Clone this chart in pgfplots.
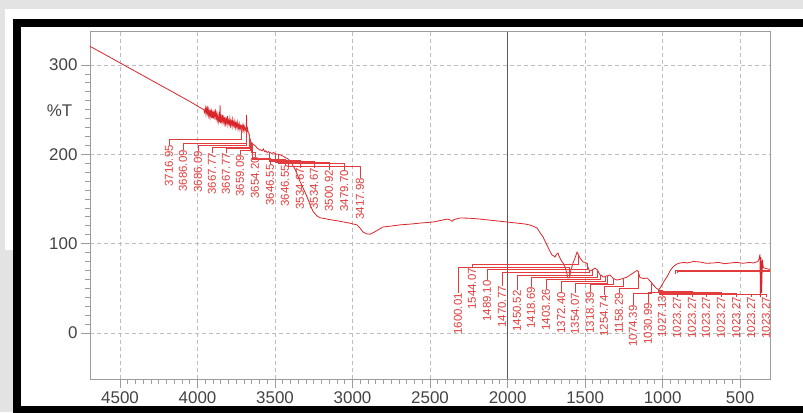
\documentclass[border=0pt]{standalone}
\usepackage{fontspec}
\setmainfont{Liberation Sans}
\usepackage{pgfplots}
\usepackage{pgfplotstable}
\pgfplotsset{compat=1.18}

\definecolor{pagegray}{HTML}{E3E3E3}
\definecolor{ticktext}{HTML}{444444}
\definecolor{boxgray}{HTML}{9C9C9C}
\definecolor{gridgray}{HTML}{BDBDBD}
\definecolor{specred}{HTML}{D9262A}
\definecolor{peakred}{HTML}{E23C3C}
\definecolor{markerline}{HTML}{5A5A5A}

\tikzset{
  leader/.style={peakred, line width=0.55bp},
  peaklabel/.style={rotate=90, anchor=east, inner sep=0pt, text=peakred,
    font=\fontsize{11.5}{12}\selectfont},
}

% IR spectrum: wavenumber (cm^-1) vs %T
\pgfplotstableread{
wn T
4694 321
4650 316.8
4600 312
4550 307.2
4500 302.4
4450 297.6
4400 292.8
4350 288
4300 283.2
4250 278.4
4200 273.6
4150 268.8
4100 264
4050 259.2
4000 254
3980 252
3970 251
3960 250
3955 247
3950 252
3946 245
3942 251
3938 246
3934 254
3930 244
3926 249
3922 243
3918 250
3914 242
3910 248
3906 241
3902 249
3898 240
3894 246
3890 242
3886 251
3882 239
3878 245
3874 238
3870 244
3866 237
3862 243
3858 236
3855 255
3852 235
3848 242
3844 237
3840 244
3836 236
3832 241
3828 235
3824 242
3820 234
3816 239
3812 235
3808 243
3804 233
3800 238
3796 234
3792 240
3788 232
3784 237
3780 233
3776 239
3772 231
3768 236
3764 232
3760 237
3756 230
3752 235
3748 231
3744 236
3740 229
3736 233
3732 228
3728 234
3724 229
3720 232
3716.95 231
3712 233
3708 227
3704 232
3700 226
3696 231
3690 227
3686.09 229
3684 244
3682 225
3678 229
3672 224
3667.77 223
3664 219
3659.09 216
3654.20 213
3650 213
3646.55 212
3640 211
3632 210
3624 209
3616 207
3608 206
3600 205
3592 205
3584 204
3576 206
3568 203
3560 204
3552 202
3544 203
3534.67 202
3520 201
3510 202
3500.92 201
3490 200
3479.70 200
3460 199
3449 198
3430 196
3417.98 195
3400 192
3370 183
3340 170
3300 155
3270 142
3255 136
3230 131
3210 129
3150 127
3081 125
3020 123
2971 121
2950 117
2933 113
2910 111
2888 110.5
2870 112
2849 114
2820 117
2804 118.6
2760 119.5
2694 121
2620 122
2565 123
2481 124.2
2430 126
2391 127.5
2370 126.5
2358 125
2345 127
2307 128.7
2250 128.5
2178 127.5
2100 126
2004 124.2
1940 123
1888 122
1855 120.8
1830 119
1810 117.5
1790 112
1771 107.4
1746 98.4
1725 91
1713 87.2
1700 86
1694 85
1685 88
1675 89.5
1668 86
1662 83.9
1650 80
1642 78.3
1630 74
1620 68
1610 61.5
1600.01 62
1592 70
1578 78.3
1565 84
1552 90.6
1544.07 88
1533 83.9
1520 81
1513 79.4
1500 79
1489.10 78
1478 72
1470.77 69
1460 70
1450.52 71
1436 72.7
1425 71
1418.69 70
1410 67
1403.26 65
1390 64
1384 62.6
1372.40 63
1360 64
1354.07 64
1339 64.8
1318.39 61
1294 59.2
1275 60
1254.74 61
1229 62.6
1200 66
1191 67
1165 70
1158.29 69
1146 62
1120 61
1100 61.5
1074.39 57
1062 54
1040 50
1030.99 49
1027.13 48.8
1023.27 48.6
1010 52
990 58
971 63
950 70
933 74
910 77
888 78.3
860 79
842 78.3
800 80
758 79.4
720 78
675 78.3
640 79
600 77.5
565 78.3
520 79
480 78
440 79
416 78.3
385 80
376 84
372 88
369 40
365 85
361 45
356 82
350 73
330 72
307 71
}\spectrum

% the wavenumber axis runs from high to low: positions are plotted at -wn
% peak marker: text, label position, label top, leader level, peak position, peak %T
\newcommand{\peak}[6]{%
  \draw[leader] (axis cs:-#2,#3) -- (axis cs:-#2,#4) -- (axis cs:-#5,#4) -- (axis cs:-#5,#6);
  \node[peaklabel] at (axis cs:-#2,#3) {#1};}

\begin{document}
\begin{tikzpicture}[x=1bp,y=1bp]
% page, outer margin and black frame bands (axis box corner is the origin)
\fill[pagegray] (-90,-33) rectangle (713,379);
\fill[white] (-85,129) rectangle (713,370);
\fill[white] (-69.3,-27) rectangle (713,352);
\fill[black] (-77.3,352) rectangle (713,360);   % top band
\fill[black] (-77.3,-36) rectangle (713,-27);   % bottom band
\fill[black] (-77.3,-36) rectangle (-69.3,360); % left band

\begin{axis}[
  scale only axis, width=680bp, height=347bp,
  xmin=-4694, xmax=-307, ymin=-51.6, ymax=337,
  xtick={-4500,-4000,-3500,-3000,-2500,-2000,-1500,-1000,-500},
  xticklabels={4500,4000,3500,3000,2500,2000,1500,1000,500},
  ytick={0,100,200,300},
  minor x tick num=9, minor y tick num=9,
  tick align=outside, xtick pos=bottom, ytick pos=left,
  major tick length=9bp, minor tick length=5bp,
  tick style={boxgray, line width=0.8bp},
  axis line style={boxgray, line width=1bp},
  grid=major,
  major grid style={gridgray, dash pattern=on 4bp off 3bp, line width=0.8bp},
  ticklabel style={font=\fontsize{17}{17}\selectfont, text=ticktext},
  /pgf/number format/assume math mode=true,
  scaled ticks=false,
  clip=false,
]
\draw[markerline, line width=1.2bp] (axis cs:-2000,-51.6) -- (axis cs:-2000,337);

\addplot[specred, line width=0.8bp] table[x expr=-\thisrow{wn}, y=T] {\spectrum};

\peak{3716.95}{4184}{210.4}{217.1}{3716.95}{231}
\peak{3686.09}{4094}{204.8}{212.7}{3686.09}{229}
\peak{3686.09}{3997}{203.7}{210.4}{3686.09}{229}
\peak{3667.77}{3907}{201.5}{208.2}{3667.77}{223}
\peak{3667.77}{3817}{201.5}{207}{3667.77}{223}
\peak{3659.09}{3726}{199.2}{204.8}{3659.09}{216}
\peak{3654.20}{3630}{197}{202.6}{3654.20}{213}
\peak{3646.55}{3533}{189.1}{195.9}{3646.55}{212}
\peak{3646.55}{3436}{188}{194.7}{3646.55}{212}
\peak{3534.67}{3339}{184.7}{193.6}{3534.67}{202}
\peak{3534.67}{3249}{184.7}{192.5}{3534.67}{202}
\peak{3500.92}{3152}{182.4}{191.4}{3500.92}{201}
\peak{3479.70}{3055}{182.4}{190.3}{3479.70}{200}
\peak{3417.98}{2952}{173.5}{186.9}{3417.98}{195}

\peak{1600.01}{2320}{44.7}{74}{1600.01}{62}
\peak{1544.07}{2229.5}{72.7}{77}{1544.07}{88}
\peak{1489.10}{2133}{59.2}{71}{1489.10}{78}
\peak{1470.77}{2036}{52.5}{68}{1470.77}{69}
\peak{1450.52}{1939}{48}{65}{1450.52}{71}
\peak{1418.69}{1849}{51.4}{62}{1418.69}{70}
\peak{1403.26}{1752}{49.2}{60}{1403.26}{65}
\peak{1372.40}{1655}{45.8}{58}{1372.40}{63}
\peak{1354.07}{1565}{44.7}{56}{1354.07}{64}
\peak{1318.39}{1468}{45.8}{54}{1318.39}{61}
\peak{1254.74}{1378}{42.4}{52}{1254.74}{61}
\peak{1158.29}{1281}{44.7}{50.5}{1158.29}{69}
\peak{1074.39}{1191}{31.2}{44}{1074.39}{57}
\peak{1030.99}{1094}{33.5}{46}{1030.99}{49}
\peak{1027.13}{1004}{41.3}{47.5}{1027.13}{48.8}
\peak{1023.27}{907}{40.2}{46.8}{1023.27}{48.6}
\peak{1023.27}{810}{40.2}{46.2}{1023.27}{48.6}
\peak{1023.27}{720}{40.2}{45.6}{1023.27}{48.6}
\peak{1023.27}{623}{40.2}{45}{1023.27}{48.6}
\peak{1023.27}{526}{40.2}{44.4}{1023.27}{48.6}
\peak{1023.27}{429}{40.2}{43.8}{1023.27}{48.6}
\peak{1023.27}{332.6}{40.2}{43.2}{1023.27}{48.6}

\draw[leader] (axis cs:-920,66) -- (axis cs:-920,70.5) -- (axis cs:-307,70.5);
\draw[leader] (axis cs:-905,67) -- (axis cs:-905,68.5) -- (axis cs:-307,68.5);
\end{axis}

\node[anchor=east, inner sep=0pt, font=\fontsize{17}{17}\selectfont, text=ticktext] at (-17.5,268) {\%T};

\pgfresetboundingbox
\path (-90,-33) rectangle (713,379);
\end{tikzpicture}
\end{document}
